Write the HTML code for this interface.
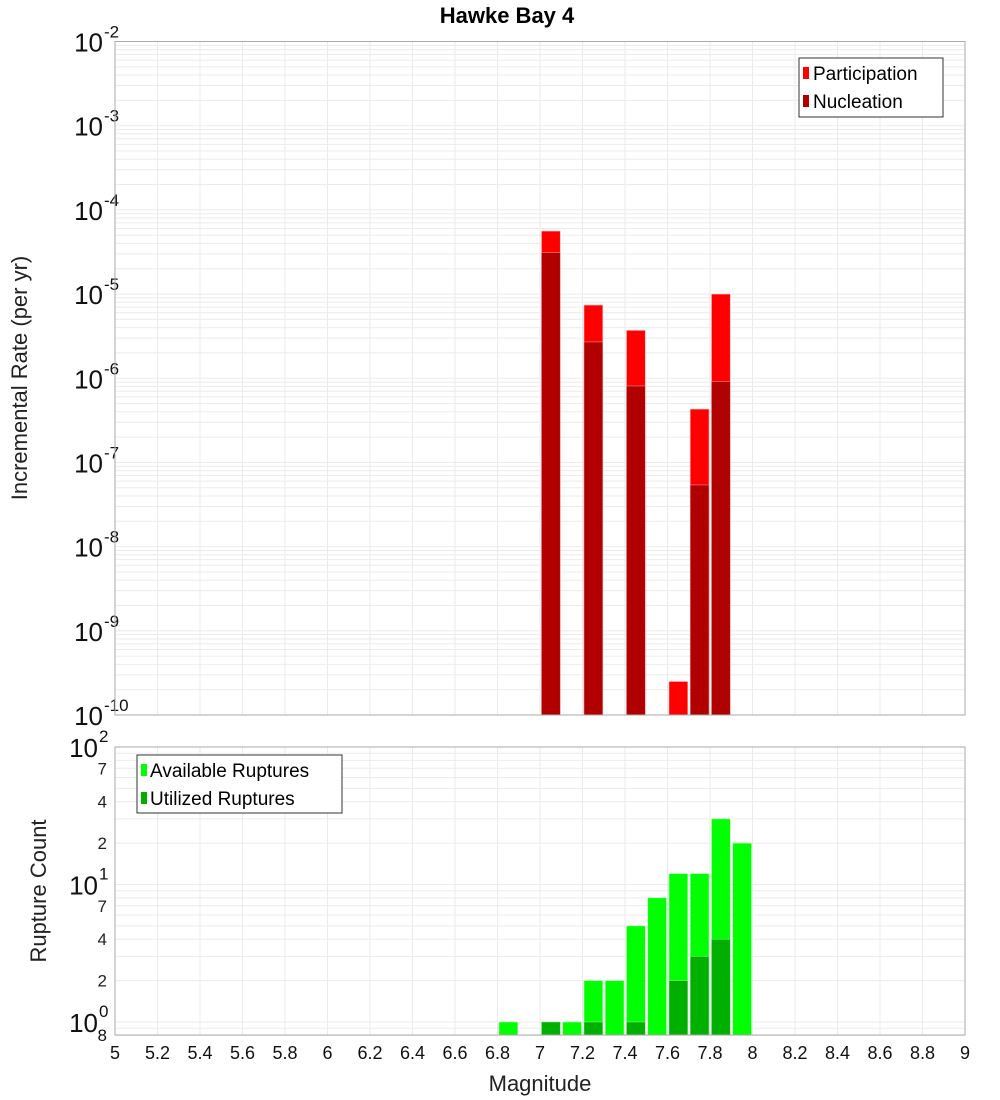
<!DOCTYPE html>
<html><head><meta charset="utf-8"><style>
body{margin:0;background:#fff}
svg{display:block;font-family:"Liberation Sans","DejaVu Sans",sans-serif}
</style></head><body>
<svg id="chart" width="1000" height="1100" viewBox="0 0 1000 1100" xmlns="http://www.w3.org/2000/svg">
<text x="507" y="23" text-anchor="middle" font-size="22" font-weight="bold">Hawke Bay 4</text>
<g id="topG"></g><g id="botG"></g>
<text transform="translate(27,378) rotate(-90)" text-anchor="middle" font-size="22" fill="#222">Incremental Rate (per yr)</text>
<text transform="translate(46,891) rotate(-90)" text-anchor="middle" font-size="22" fill="#222">Rupture Count</text>
<text x="540" y="1091" text-anchor="middle" font-size="22" fill="#222">Magnitude</text>
</svg>
<script>
const binCenters=[7.05,7.25,7.45,7.65,7.75,7.85];
const participation=[5.6e-5,7.4e-6,3.7e-6,2.5e-10,4.3e-7,1.0e-5];
const nucleation=[3.1e-5,2.7e-6,8.1e-7,0,5.4e-8,9.1e-7];
const countBins=[6.85,7.05,7.15,7.25,7.35,7.45,7.55,7.65,7.75,7.85,7.95];
const available=[1,0,1,2,2,5,8,12,12,30,20];
const utilized=[0,1,0,1,0,1,0,2,3,4,0];
const xTicks=[5,5.2,5.4,5.6,5.8,6,6.2,6.4,6.6,6.8,7,7.2,7.4,7.6,7.8,8,8.2,8.4,8.6,8.8,9];
const topDecades=[-10,-9,-8,-7,-6,-5,-4,-3,-2];
const NS="http://www.w3.org/2000/svg";
const L=115,R=965;
const xs=v=>L+(v-5)/4*(R-L);
const T1=41.5,B1=715;
const yTop=v=>B1-(Math.log10(v)+10)/8*(B1-T1);
const T2=747,B2=1035;
const yBot=v=>1022-Math.log10(v)*137.5;
function mk(p,tag,a){const e=document.createElementNS(NS,tag);for(const k in a)e.setAttribute(k,a[k]);p.appendChild(e);return e;}
const topG=document.getElementById('topG'),botG=document.getElementById('botG');
for(const t of xTicks){const g=mk(topG,'line',{x1:xs(t),x2:xs(t),y1:T1,y2:B1,stroke:'#ebebeb'});

}
for(const d of topDecades){for(let m=1;m<10;m++){if(d===-2&&m>1)break;const y=yTop(m*Math.pow(10,d));const g=mk(topG,'line',{x1:L,x2:R,y1:y,y2:y,stroke:'#ebebeb'});

}
const t=mk(topG,'text',{x:103,y:yTop(Math.pow(10,d))+10,'text-anchor':'end','font-size':26,fill:'#111'});


t.textContent='10';const s=mk(topG,'text',{x:104,y:yTop(Math.pow(10,d))-4,'font-size':17,fill:'#111'});


s.textContent=String(d);}
binCenters.forEach((c,i)=>{const x0=xs(c-0.05)+1.5,w=xs(c+0.05)-xs(c-0.05)-2.5;
const p=participation[i];if(p>0){const r=mk(topG,'rect',{x:x0,y:yTop(p),width:w,height:B1-yTop(p),fill:'#ff0000',stroke:'#ffb0b0','stroke-width':0.6});

}
const n=nucleation[i];if(n>0){const r=mk(topG,'rect',{x:x0,y:yTop(n),width:w,height:B1-yTop(n),fill:'#b00000',stroke:'#e09090','stroke-width':0.6});

}});
const f1=mk(topG,'rect',{x:L,y:T1,width:R-L,height:B1-T1,fill:'none',stroke:'#aaa'});


const lg=mk(topG,'g',{});


mk(lg,'rect',{x:799,y:58,width:144,height:59,fill:'#fff',stroke:'#333'});
mk(lg,'rect',{x:803,y:67,width:6,height:12,fill:'#ff0000'});
mk(lg,'rect',{x:803,y:95,width:6,height:12,fill:'#b00000'});
const l1=mk(lg,'text',{x:813,y:80,'font-size':19});l1.textContent='Participation';


const l2=mk(lg,'text',{x:813,y:108,'font-size':19});l2.textContent='Nucleation';


for(const t of xTicks){const g=mk(botG,'line',{x1:xs(t),x2:xs(t),y1:T2,y2:B2,stroke:'#ebebeb'});


const lb=mk(botG,'text',{x:xs(t),y:1059,'text-anchor':'middle','font-size':18,fill:'#111'});


lb.textContent=String(t);}
for(const v of [0.8,0.9,1,2,3,4,5,6,7,8,9,10,20,30,40,50,60,70,80,90,100]){const y=yBot(v);const g=mk(botG,'line',{x1:L,x2:R,y1:y,y2:y,stroke:'#ebebeb'});

}
for(const v of [2,4,7,20,40,70]){const t=mk(botG,'text',{x:107,y:yBot(v)+6,'text-anchor':'end','font-size':17,fill:'#222'});


t.textContent=String(v).charAt(0);}
[[1,0],[10,1],[100,2]].forEach(([v,e])=>{const t=mk(botG,'text',{x:98,y:yBot(v)+10,'text-anchor':'end','font-size':26,fill:'#111'});


t.textContent='10';const s=mk(botG,'text',{x:99,y:yBot(v)-5,'font-size':17,fill:'#111'});


s.textContent=String(e);});
const e8=mk(botG,'text',{x:107,y:1041,'text-anchor':'end','font-size':17,fill:'#111'});


e8.textContent='8';
countBins.forEach((c,i)=>{const x0=xs(c-0.05)+1.5,w=xs(c+0.05)-xs(c-0.05)-2.5;
const a=available[i];if(a>0){const r=mk(botG,'rect',{x:x0,y:yBot(a),width:w,height:B2-yBot(a),fill:'#00ff00',stroke:'#b0ffb0','stroke-width':0.6});

}
const u=utilized[i];if(u>0){const r=mk(botG,'rect',{x:x0,y:yBot(u),width:w,height:B2-yBot(u),fill:'#00b000',stroke:'#90e090','stroke-width':0.6});

}});
const f2=mk(botG,'rect',{x:L,y:T2,width:R-L,height:B2-T2,fill:'none',stroke:'#aaa'});


const lg2=mk(botG,'g',{});


mk(lg2,'rect',{x:137,y:755,width:205,height:58,fill:'#fff',stroke:'#333'});
mk(lg2,'rect',{x:141,y:764,width:6,height:12,fill:'#00ff00'});
mk(lg2,'rect',{x:141,y:792,width:6,height:12,fill:'#00b000'});
const l3=mk(lg2,'text',{x:150,y:777,'font-size':19});l3.textContent='Available Ruptures';


const l4=mk(lg2,'text',{x:150,y:805,'font-size':19});l4.textContent='Utilized Ruptures';


</script>
</body></html>
